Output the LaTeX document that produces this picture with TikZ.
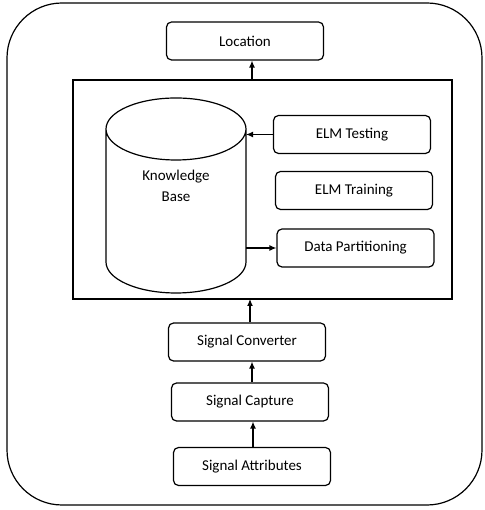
\documentclass[tikz,border=0pt]{standalone}
\usepackage{fontspec}
\setmainfont{Carlito}
\usetikzlibrary{arrows.meta}
\tikzset{
	label font/.style={font=\fontsize{15}{18}\selectfont},
	block/.style={draw, line width=1.2pt, rounded corners=5pt, label font},
	flow/.style={line width=1.2pt, -{Latex[length=7pt, width=6pt]}}
}
\begin{document}
\begin{tikzpicture}[x=1pt, y=1pt]
		\useasboundingbox (0,0) rectangle (484,510);
		% outer frame and knowledge block
		\draw[line width=1.2pt, rounded corners=55pt] (7,5) rectangle (482,507);
		\draw[line width=1.3pt] (73,211) rectangle (452,430) coordinate (kbTR);
		\coordinate (kbBL) at (73,211);
		% knowledge base drum
		\draw[line width=1.2pt] (106,381) -- (106,248) arc (180:360:70 and 31) -- (246,381) arc (0:360:70 and 31);
		\coordinate (kbR) at (246,320);
		\node[label font, align=center] (kb) at (176,324) {Knowledge\\[3pt]Base};
		% boxes, centre x, centre y, name, text
		\foreach \cx/\cy/\name/\txt in {
			245/469/loc/Location,
			352/375.5/test/ELM Testing,
			354/319.5/train/ELM Training,
			355.5/262/part/Data Partitioning,
			247/168/conv/Signal Converter,
			250/108/capt/Signal Capture,
			252/43.5/attr/Signal Attributes}{
				\node[block, minimum width=157pt, minimum height=38pt] (\name) at (\cx,\cy) {\txt};
			}
		\draw[flow] (test.west) -- (test.west -| kbR);
		\draw[flow] (part.west -| kbR) -- (part.west);
		\draw[flow] ([xshift=7pt]loc.south |- kbTR) -- ([xshift=7pt]loc.south);
		\draw[flow] ([xshift=3pt]conv.north) -- ([xshift=3pt]conv.north |- kbBL);
		\draw[flow] ([xshift=2pt]capt.north) -- ([xshift=5pt]conv.south);
		\draw[flow] ([xshift=1pt]attr.north) -- ([xshift=3pt]capt.south);
	\end{tikzpicture}
\end{document}
